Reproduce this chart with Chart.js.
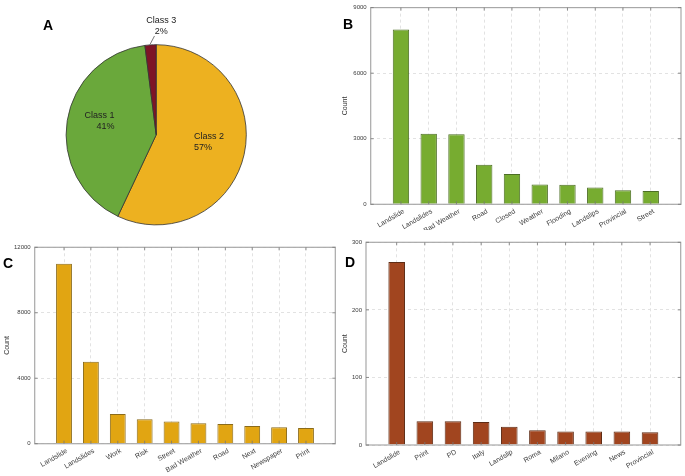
<!DOCTYPE html>
<html>
<head>
<meta charset="utf-8">
<script src="https://cdn.jsdelivr.net/npm/chart.js@4/dist/chart.umd.min.js"></script>
<style>
  html, body { margin: 0; padding: 0; background: #ffffff; }
  body { width: 685px; height: 476px; position: relative; overflow: hidden; font-family: "Liberation Sans", Arial, sans-serif; }
  canvas { position: absolute; }
  .lbl { position: absolute; font-weight: bold; font-size: 14px; color: #000; line-height: 1; }
</style>
</head>
<body>
<canvas id="pie" width="330" height="232" style="left:0;top:0"></canvas>
<canvas id="chartB" width="344" height="230" style="left:341px;top:0"></canvas>
<canvas id="chartC" width="336" height="244" style="left:3px;top:232px"></canvas>
<canvas id="chartD" width="344" height="244" style="left:341px;top:232px"></canvas>
<div class="lbl" style="left:43px;top:18px">A</div>
<div class="lbl" style="left:343px;top:17px">B</div>
<div class="lbl" style="left:3px;top:256px">C</div>
<div class="lbl" style="left:345px;top:255px">D</div>
<script>
// ---- data (slices listed clockwise from 12 o'clock) ----
const pieLabels = ['Class 2', 'Class 1', 'Class 3'];
const pieValues = [57, 41, 2];
const pieColors = ['#edb120', '#6aa83b', '#7e1426'];

const bLabels = ['Landslide', 'Landslides', 'Bad Weather', 'Road', 'Closed', 'Weather', 'Flooding', 'Landslips', 'Provincial', 'Street'];
const bValues = [8000, 3230, 3200, 1810, 1390, 910, 900, 770, 640, 610];
const bTicks = [0, 3000, 6000, 9000];

const cLabels = ['Landslide', 'Landslides', 'Work', 'Risk', 'Street', 'Bad Weather', 'Road', 'Next', 'Newspaper', 'Print'];
const cValues = [11000, 5010, 1815, 1490, 1350, 1250, 1205, 1085, 1000, 960];
const cTicks = [0, 4000, 8000, 12000];

const dLabels = ['Landslide', 'Print', 'PD', 'Italy', 'Landslip', 'Roma', 'Milano', 'Evening', 'News', 'Provincial'];
const dValues = [271, 35, 35, 34, 27, 22, 20, 20, 20, 19];
const dTicks = [0, 100, 200, 300];

const FONT = '"Liberation Sans", Arial, sans-serif';

// ---- pie ----
const pieTotal = pieValues.reduce((a, b) => a + b, 0);
const pieLabelPlugin = {
  id: 'pieLabels',
  afterDatasetsDraw(chart, args, opts) {
    const ctx = chart.ctx;
    const arc = chart.getDatasetMeta(0).data[0];
    const cx = arc.x, cy = arc.y, r = arc.outerRadius;
    ctx.save();
    ctx.font = '9px ' + FONT;
    ctx.fillStyle = '#222';
    ctx.textBaseline = 'middle';
    opts.places.forEach((p, i) => {
      const pct = Math.round(pieValues[i] / pieTotal * 100) + '%';
      const x = cx + p.dx * r, y = cy + p.dy * r;
      ctx.textAlign = p.align;
      ctx.fillText(pieLabels[i], x, y - 5.3);
      ctx.fillText(pct, x, y + 5.3);
      if (p.leader) {
        ctx.strokeStyle = '#555';
        ctx.lineWidth = 0.8;
        ctx.beginPath();
        ctx.moveTo(cx + p.leader[0] * r, cy + p.leader[1] * r);
        ctx.lineTo(cx + p.leader[2] * r, cy + p.leader[3] * r);
        ctx.stroke();
      }
    });
    ctx.restore();
  }
};

new Chart(document.getElementById('pie'), {
  type: 'pie',
  data: {
    labels: pieLabels,
    datasets: [{
      data: pieValues,
      backgroundColor: pieColors,
      borderColor: '#333333',
      borderWidth: 0.8
    }]
  },
  options: {
    responsive: false,
    animation: false,
    rotation: 0,
    layout: { padding: { left: 65.7, right: 83.3, top: 44.3, bottom: 6.7 } },
    plugins: {
      legend: { display: false },
      tooltip: { enabled: false },
      pieLabels: {
        places: [
          { dx: 0.42, dy: 0.081, align: 'left' },
          { dx: -0.464, dy: -0.151, align: 'right' },
          { dx: 0.055, dy: -1.21, align: 'center', leader: [-0.07, -1.0, -0.019, -1.097] }
        ]
      }
    }
  },
  plugins: [pieLabelPlugin]
});

// ---- bar helpers ----
const boxPlugin = {
  id: 'matBox',
  afterDraw(chart) {
    const { ctx, chartArea: a } = chart;
    const xs = chart.scales.x, ys = chart.scales.y;
    ctx.save();
    ctx.strokeStyle = '#a8a8a8';
    ctx.lineWidth = 1.2;
    ctx.strokeRect(a.left, a.top, a.right - a.left, a.bottom - a.top);
    ctx.strokeStyle = '#777';
    ctx.lineWidth = 0.8;
    ctx.beginPath();
    xs.ticks.forEach(t => {
      const px = xs.getPixelForValue(t.value);
      ctx.moveTo(px, a.top); ctx.lineTo(px, a.top + 3);
      ctx.moveTo(px, a.bottom); ctx.lineTo(px, a.bottom - 3);
    });
    ys.ticks.forEach(t => {
      const py = ys.getPixelForValue(t.value);
      ctx.moveTo(a.left, py); ctx.lineTo(a.left + 3, py);
      ctx.moveTo(a.right, py); ctx.lineTo(a.right - 3, py);
    });
    ctx.stroke();
    ctx.restore();
  }
};

function makeBar(id, labels, values, ticks, color, border, lay) {
  new Chart(document.getElementById(id), {
    type: 'bar',
    data: {
      datasets: [{
        data: values.map((v, i) => ({ x: i + 1, y: v })),
        backgroundColor: color,
        borderColor: border,
        borderWidth: 1,
        barPercentage: 0.59,
        categoryPercentage: 1
      }]
    },
    options: {
      responsive: false,
      animation: false,
      layout: { padding: { left: 0, right: lay.right, top: lay.top, bottom: 0 } },
      plugins: { legend: { display: false }, tooltip: { enabled: false } },
      scales: {
        x: {
          type: 'linear',
          offset: false,
          min: -0.09,
          max: 11.09,
          afterBuildTicks: s => { s.ticks = labels.map((_, i) => ({ value: i + 1 })); },
          afterFit: s => { s.height = lay.xh; },
          grid: { color: '#e2e2e2', drawTicks: false, offset: false },
          border: { display: false, dash: [3, 3] },
          ticks: {
            autoSkip: false,
            minRotation: 30,
            maxRotation: 30,
            padding: 3,
            labelOffset: 3,
            color: '#3a3a3a',
            font: { family: FONT, size: 7 },
            callback: v => labels[v - 1]
          }
        },
        y: {
          min: 0,
          max: ticks[ticks.length - 1],
          afterBuildTicks: s => { s.ticks = ticks.map(v => ({ value: v })); },
          afterFit: s => { s.width = lay.yw; },
          grid: { color: '#e2e2e2', drawTicks: false },
          border: { display: false, dash: [3, 3] },
          ticks: {
            padding: 4,
            color: '#3a3a3a',
            font: { family: FONT, size: 6 },
            callback: v => String(v)
          },
          title: {
            display: true,
            text: 'Count',
            color: '#333',
            padding: 0,
            font: { family: FONT, size: 7 }
          }
        }
      }
    },
    plugins: [boxPlugin]
  });
}

makeBar('chartB', bLabels, bValues, bTicks, '#77ac30', '#4d6e25', { yw: 29.7, right: 4, top: 5, xh: 25.7 });
makeBar('chartC', cLabels, cValues, cTicks, '#e1a512', '#8b6b1a', { yw: 31.7, right: 3.7, top: 15.3, xh: 32.3 });
makeBar('chartD', dLabels, dValues, dTicks, '#a1451f', '#5e2c15', { yw: 25, right: 4.3, top: 10.3, xh: 31 });
</script>
</body>
</html>
